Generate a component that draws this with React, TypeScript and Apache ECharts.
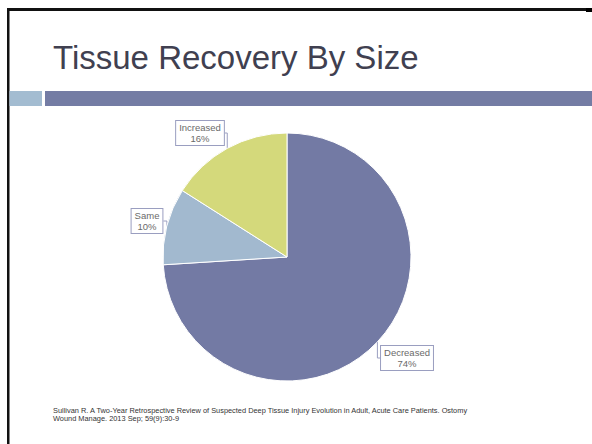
import React, { useEffect, useRef } from "react";
import * as echarts from "echarts";

const titleText = "Tissue Recovery By Size";
const categories = ["Decreased", "Same", "Increased"];
const values = [74, 10, 16];
const sliceColors = ["#737aa4", "#a2b9cf", "#d4d97b"];
const footnoteLines = [
  "Sullivan R. A Two-Year Retrospective Review of Suspected Deep Tissue Injury Evolution in Adult, Acute Care Patients. Ostomy",
  "Wound Manage. 2013 Sep; 59(9):30-9",
];
// label box centres (layout)
const labelSpots = [
  [407, 358],
  [147, 221],
  [200, 133],
];

export default function App() {
  const ref = useRef<HTMLDivElement>(null);
  useEffect(() => {
    if (!ref.current) return;
    const chart = echarts.init(ref.current, null, { renderer: "svg" });
    chart.setOption({
      animation: false,
      backgroundColor: "#ffffff",
      graphic: [
        { type: "rect", shape: { x: 7, y: 8, width: 600, height: 3 }, style: { fill: "#111" } },
        { type: "rect", shape: { x: 7, y: 8, width: 2.5, height: 440 }, style: { fill: "#111" } },
        { type: "rect", shape: { x: 586, y: 8, width: 6, height: 4 }, style: { fill: "#000" } },
        { type: "rect", shape: { x: 9.5, y: 91, width: 32.5, height: 15 }, style: { fill: "#a3bcd1" } },
        { type: "rect", shape: { x: 45, y: 91, width: 560, height: 15 }, style: { fill: "#747ca4" } },
        {
          type: "text",
          x: 53,
          y: 41,
          style: {
            text: titleText,
            fill: "#404050",
            font: "33px 'Liberation Sans', Arial, sans-serif",
            verticalAlign: "top",
          },
        },
        {
          type: "text",
          x: 53,
          y: 406,
          style: {
            text: footnoteLines.join("\n"),
            fill: "#333",
            font: "7.4px 'Liberation Sans', Arial, sans-serif",
            lineHeight: 8.5,
            verticalAlign: "top",
          },
        },
      ],
      series: [
        {
          type: "pie",
          center: [287, 257],
          radius: [0, 124],
          startAngle: 90,
          clockwise: true,
          itemStyle: { borderColor: "#ffffff", borderWidth: 1 },
          data: categories.map((c, i) => ({
            name: c,
            value: values[i],
            itemStyle: { color: sliceColors[i] },
          })),
          label: {
            show: true,
            position: "outside",
            formatter: "{b}\n{c}%",
            color: "#6a6a6a",
            fontSize: 9.5,
            fontFamily: "'Liberation Sans', Arial, sans-serif",
            lineHeight: 11,
            align: "center",
            backgroundColor: "#ffffff",
            borderColor: "#9a9ec0",
            borderWidth: 1,
            padding: [1, 3, 1, 3],
          },
          labelLine: {
            show: true,
            length: 8,
            length2: 8,
            lineStyle: { color: "#9a9ec0", width: 1 },
          },
          labelLayout: (p: any) => ({
            x: labelSpots[p.dataIndex][0],
            y: labelSpots[p.dataIndex][1],
            align: "center",
            verticalAlign: "middle",
          }),
        },
      ],
    });
    return () => chart.dispose();
  }, []);
  return (
    <div
      ref={ref}
      style={{ position: "fixed", left: 0, top: 0, width: 592, height: 444 }}
    />
  );
}
